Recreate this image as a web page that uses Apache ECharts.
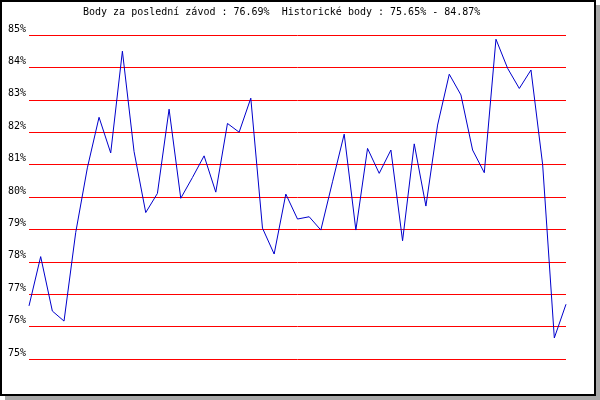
<!DOCTYPE html>
<html>
<head>
<meta charset="utf-8">
<script src="https://cdn.jsdelivr.net/npm/echarts@6/dist/echarts.min.js"></script>
<style>html,body{margin:0;padding:0;background:#fff}#c{width:600px;height:400px}</style>
</head>
<body>
<div id="c"></div>
<script>
var titleText = 'Body za poslední závod : 76.69%  Historické body : 75.65% - 84.87%';
var races = [];
for (var i = 1; i <= 47; i++) races.push(String(i));
var points = [76.64, 78.16, 76.48, 76.17, 78.9, 80.9, 82.46, 81.36, 84.5, 81.4,
  79.52, 80.11, 82.71, 79.96, 80.6, 81.27, 80.15, 82.27, 82.0, 83.05,
  79.04, 78.24, 80.09, 79.32, 79.39, 78.98, 80.47, 81.94, 78.98, 81.5,
  80.73, 81.45, 78.65, 81.64, 79.72, 82.22, 83.79, 83.15, 81.45, 80.75,
  84.87, 83.97, 83.35, 83.92, 81.0, 75.65, 76.69];
var yMin = 75, yMax = 85, yStep = 1;
var font = 'DejaVu Sans Mono';

var chart = echarts.init(document.getElementById('c'), null, {renderer: 'canvas'});
chart.setOption({
  backgroundColor: '#ffffff',
  animation: false,
  graphic: [
    {type: 'rect', z: -20, shape: {x: 5, y: 5, width: 595, height: 395}, style: {fill: '#a8a8a8'}},
    {type: 'rect', z: -19, shape: {x: 1, y: 1, width: 594, height: 394}, style: {fill: '#ffffff', stroke: '#000000', lineWidth: 2}}
  ],
  title: {
    text: titleText,
    left: 83, top: 7, padding: 0,
    textStyle: {fontFamily: font, fontSize: 10, fontWeight: 'normal', color: '#000'}
  },
  grid: {left: 29, right: 34, top: 35, bottom: 41, containLabel: false},
  xAxis: {
    type: 'category', data: races, boundaryGap: false,
    axisLine: {show: false}, axisTick: {show: false}, axisLabel: {show: false}, splitLine: {show: false}
  },
  yAxis: {
    type: 'value', min: yMin, max: yMax, interval: yStep,
    axisLine: {show: false}, axisTick: {show: false},
    axisLabel: {formatter: '{value}%', fontFamily: font, fontSize: 10, color: '#000', margin: 3, verticalAlign: 'bottom', padding: [0, 0, 1, 0]},
    splitLine: {show: true, lineStyle: {color: '#ff0000', width: 1}}
  },
  series: [{
    type: 'line', data: points, showSymbol: false, symbol: 'none',
    lineStyle: {color: '#0000cc', width: 1}
  }]
});
</script>
</body>
</html>
